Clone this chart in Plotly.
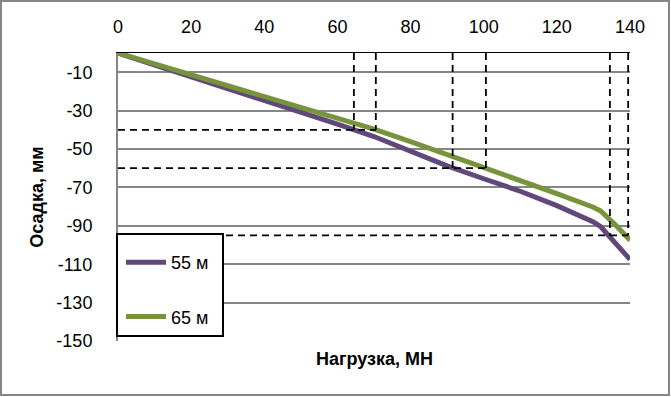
import plotly.graph_objects as go

# Load, MN
load = [0, 10, 20, 30, 40, 50, 60, 70, 80, 90, 100, 110, 120, 130, 132, 136, 140]
# Settlement, mm
settle_55 = [0, -6.1, -12.2, -18.4, -24.6, -30.8, -37.1, -43.5, -51.0, -58.8, -65.5, -72.0, -79.5, -88.0, -90.5, -99.0, -107.5]
settle_65 = [0, -5.6, -11.2, -16.8, -22.4, -28.0, -33.8, -39.7, -46.2, -52.9, -59.6, -66.2, -73.2, -80.3, -82.3, -89.5, -97.5]
names = ["55 м", "65 м"]

# Reference (dashed) levels
levels = [-40, -60, -95]
level_loads = [[64.5, 70.5], [91.5, 100.6], [134.5, 139.5]]

x_ticks = [0, 20, 40, 60, 80, 100, 120, 140]
y_ticks = [-10, -30, -50, -70, -90, -110, -130, -150]
y_tick_text = ["-10", "-30", "-50", "-70", "-90", "-110", "-130", "-150"]

PURPLE = "#60497A"
GREEN = "#77933C"
GRID = "#868686"
FONT = "Liberation Sans"

fig = go.Figure()
fig.add_trace(go.Scatter(x=load, y=settle_55, mode="lines", name=names[0],
                         line=dict(color=PURPLE, width=5), legendgroup="a"))
fig.add_trace(go.Scatter(x=load, y=settle_65, mode="lines", name=names[1],
                         line=dict(color=GREEN, width=5), legendgroup="b"))

for lv, (xa, xb) in zip(levels, level_loads):
    fig.add_trace(go.Scatter(x=[0, xb], y=[lv, lv], mode="lines", showlegend=False,
                             line=dict(color="black", width=1.8, dash="7px,5px"),
                             hoverinfo="skip"))
    for xv in (xa, xb):
        fig.add_trace(go.Scatter(x=[xv, xv], y=[0, lv], mode="lines", showlegend=False,
                                 line=dict(color="black", width=1.8, dash="7px,5px"),
                                 hoverinfo="skip"))

W, H = 671, 397
L, R, T, B = 118, 41, 53, 56
PW, PH = W - L - R, H - T - B


def px(xp):
    return (xp - L) / PW


def py(yp):
    return 1 - (yp - T) / PH


fig.update_layout(
    width=W, height=H,
    margin=dict(l=L, r=R, t=T, b=B),
    paper_bgcolor="white", plot_bgcolor="white",
    font=dict(family=FONT, size=18, color="black"),
    showlegend=True,
    legend=dict(x=px(121), xanchor="left", y=py(244), yanchor="top",
                bgcolor="rgba(0,0,0,0)", borderwidth=0,
                font=dict(family=FONT, size=18), tracegroupgap=28,
                itemwidth=40),
    xaxis=dict(side="top", range=[0, 140], tickvals=x_ticks, showgrid=False,
               zeroline=False, showline=True, linecolor="black", linewidth=1,
               ticks="", ticklabelstandoff=12, tickfont=dict(size=18)),
    yaxis=dict(range=[-150, 0], tickvals=y_ticks, ticktext=y_tick_text,
               showgrid=True, gridcolor=GRID,
               gridwidth=1.5, zeroline=False, showline=True, linecolor=GRID,
               linewidth=2, ticks="", ticklabelstandoff=20, tickfont=dict(size=18),
               title=dict(text="<b>Осадка, мм</b>", standoff=8,
                          font=dict(size=18))),
    annotations=[dict(text="<b>Нагрузка, МН</b>", x=0.5, y=0, xref="paper", yref="paper",
                      xanchor="center", yanchor="top", yshift=-6, showarrow=False,
                      font=dict(size=18))],
    shapes=[
        dict(type="rect", xref="paper", yref="paper",
             x0=px(1), x1=px(669), y0=py(395), y1=py(1),
             line=dict(color=GRID, width=2), fillcolor="rgba(0,0,0,0)", layer="below"),
        dict(type="rect", xref="paper", yref="paper",
             x0=px(117), x1=px(223), y0=py(336), y1=py(234),
             line=dict(color="black", width=2), fillcolor="white", layer="above"),
    ],
)

fig.write_html("out.html", config={"displayModeBar": False},
               post_script="document.body.style.margin='0';")
